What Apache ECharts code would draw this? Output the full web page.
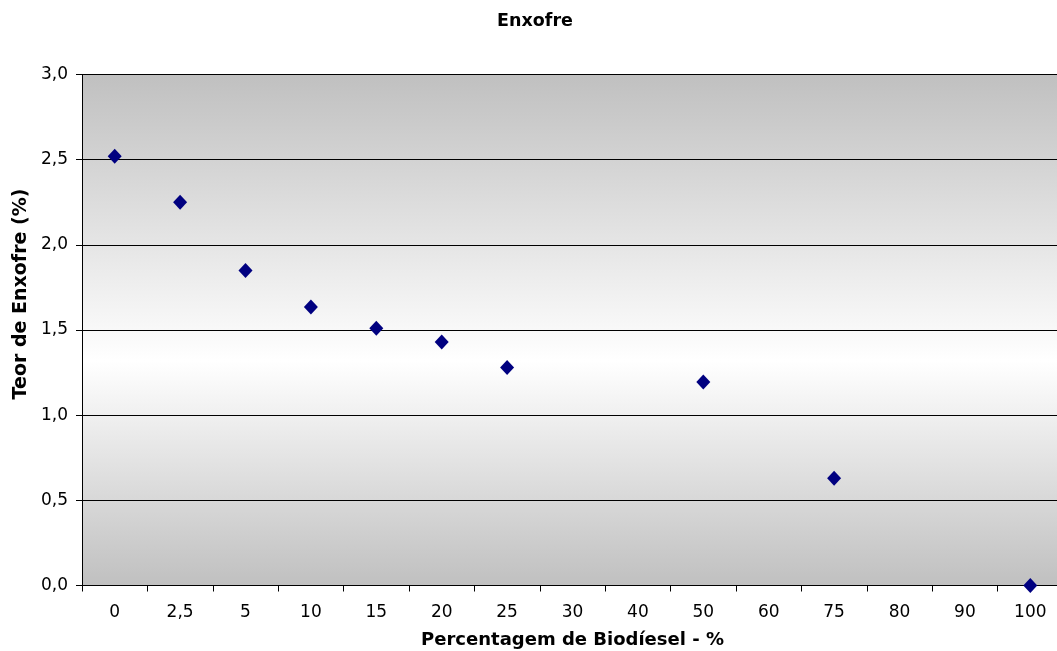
<!DOCTYPE html>
<html>
<head>
<meta charset="utf-8">
<script src="https://cdn.jsdelivr.net/npm/echarts@6/dist/echarts.min.js"></script>
<style>html,body{margin:0;padding:0;background:#fff}#c{width:1057px;height:651px}</style>
</head>
<body>
<div id="c"></div>
<script>
const categories = ['0','2,5','5','10','15','20','25','30','40','50','60','75','80','90','100'];
const pointCategories = ['0','2,5','5','10','15','20','25','50','75','100'];
const sulfurValues = [2.52, 2.25, 1.85, 1.635, 1.51, 1.43, 1.28, 1.195, 0.63, 0.0];
const chartTitle = 'Enxofre';
const xTitle = 'Percentagem de Biodíesel - %';
const yTitle = 'Teor de Enxofre (%)';

const chart = echarts.init(document.getElementById('c'), null, {renderer: 'canvas'});
const font = 'DejaVu Sans, Verdana, sans-serif';
chart.setOption({
  animation: false,
  graphic: [
    {type: 'text', x: 535, y: 21,
      style: {text: chartTitle, font: 'bold 17.5px ' + font, fill: '#000', textAlign: 'center', textVerticalAlign: 'middle'}},
    {type: 'text', x: 21, y: 294, rotation: Math.PI / 2,
      style: {text: yTitle, font: 'bold 19px ' + font, fill: '#000', textAlign: 'center', textVerticalAlign: 'middle'}}
  ],
  grid: {
    left: 82, top: 74.5, width: 981, height: 511,
    containLabel: false, outerBoundsMode: 'none',
    show: true, borderWidth: 0,
    backgroundColor: new echarts.graphic.LinearGradient(0, 0, 0, 1, [
      {offset: 0, color: '#c0c0c0'},
      {offset: 0.56, color: '#ffffff'},
      {offset: 1, color: '#c0c0c0'}
    ])
  },
  xAxis: {
    type: 'category', data: categories, boundaryGap: true,
    name: xTitle, nameLocation: 'middle', nameGap: 46,
    nameTextStyle: {fontFamily: font, fontWeight: 'bold', fontSize: 18, color: '#000'},
    axisLine: {lineStyle: {color: '#000', width: 1}},
    axisTick: {show: true, length: 6, lineStyle: {color: '#000'}, alignWithLabel: false},
    axisLabel: {fontFamily: font, fontSize: 17, color: '#000', margin: 19, interval: 0},
    splitLine: {show: false}
  },
  yAxis: {
    type: 'value', min: 0, max: 3, interval: 0.5,
    axisLine: {show: true, lineStyle: {color: '#000', width: 1}},
    axisTick: {show: true, length: 6, lineStyle: {color: '#000'}},
    axisLabel: {fontFamily: font, fontSize: 17, color: '#000', margin: 14,
      formatter: v => v.toFixed(1).replace('.', ',')},
    splitLine: {show: true, lineStyle: {color: '#000', width: 1}}
  },
  series: [{
    type: 'scatter',
    data: pointCategories.map((c, i) => [c, sulfurValues[i]]),
    symbol: 'diamond', symbolSize: [14, 15],
    itemStyle: {color: '#000080', opacity: 1},
    clip: false
  }]
});
</script>
</body>
</html>
